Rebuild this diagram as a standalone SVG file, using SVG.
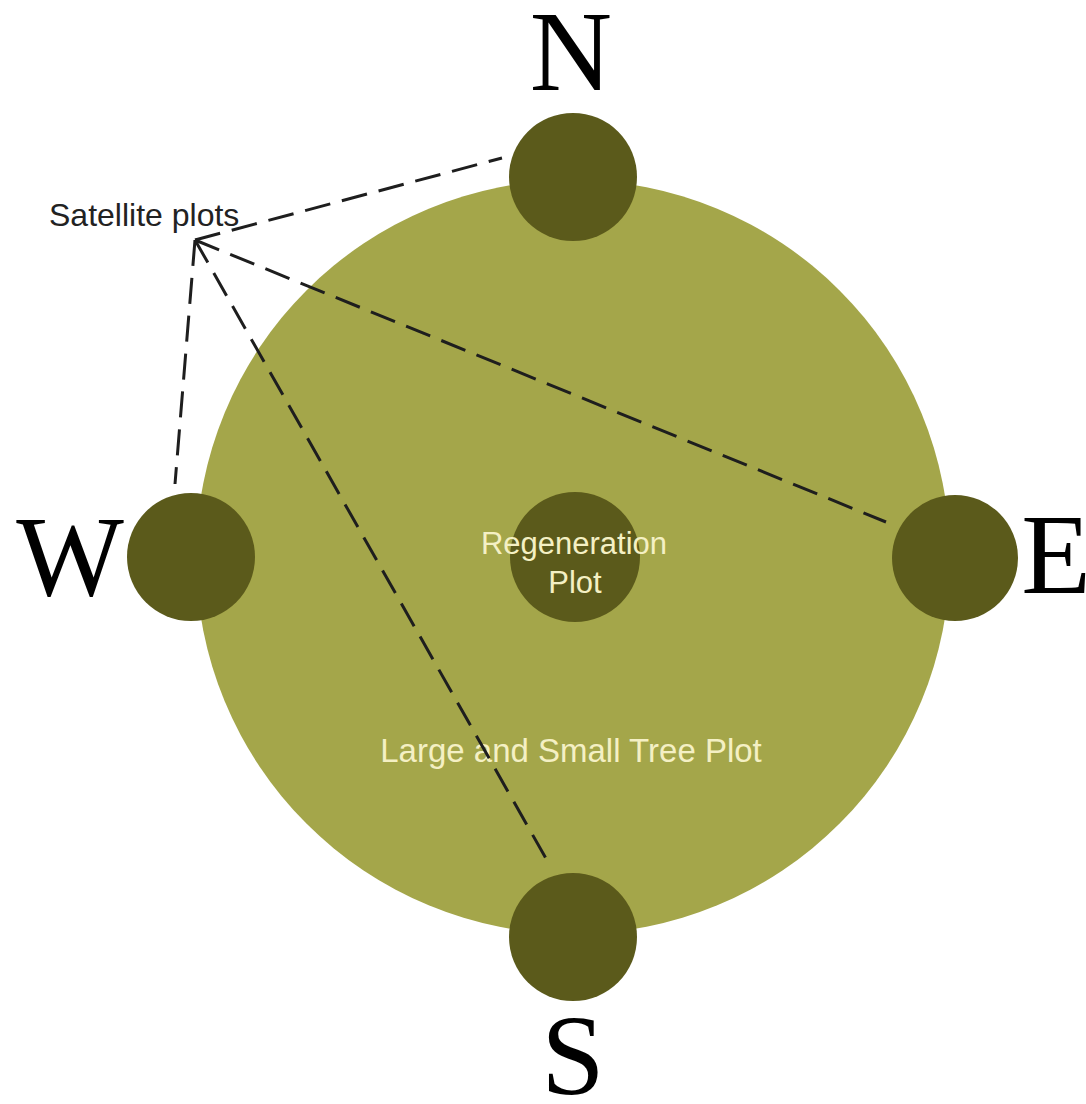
<svg xmlns="http://www.w3.org/2000/svg" width="1086" height="1104" viewBox="0 0 1086 1104">
<style>
.sat{fill:#5b5a1b}
.lbl{font-family:"Liberation Serif",serif;font-size:114px;fill:#000;text-anchor:middle}
.in{font-family:"Liberation Sans",Arial,sans-serif;fill:#f4f0c4;text-anchor:middle}
.dash{stroke:#1e1e1e;stroke-width:3;stroke-dasharray:26 12;fill:none}
</style>
<rect width="1086" height="1104" fill="#fff"/>
<g id="large-plot"><circle cx="573" cy="557" r="377" fill="#a4a64a"/><text class="in" x="571" y="762" font-size="33">Large and Small Tree Plot</text></g>
<g id="regen-plot"><circle cx="575" cy="557" r="65" class="sat"/><text class="in" x="574" y="554" font-size="31">Regeneration</text><text class="in" x="575" y="593" font-size="31">Plot</text></g>
<g id="sat-n"><circle cx="573" cy="177" r="64" class="sat"/><text class="lbl" x="571" y="90">N</text></g>
<g id="sat-w"><circle cx="191" cy="557" r="64" class="sat"/><text class="lbl" x="70" y="595">W</text></g>
<g id="sat-e"><circle cx="955" cy="558" r="63" class="sat"/><text class="lbl" x="1056" y="593">E</text></g>
<g id="sat-s"><circle cx="573" cy="937" r="64" class="sat"/><text class="lbl" x="573" y="1094">S</text></g>
<g id="connectors">
<line class="dash" x1="195" y1="240" x2="502" y2="158"/>
<line class="dash" x1="195" y1="240" x2="886" y2="522"/>
<line class="dash" x1="195" y1="240" x2="175" y2="484"/>
<line class="dash" x1="195" y1="240" x2="548" y2="862"/>
</g>
<g id="satellite-label"><text x="49" y="226" font-family="Liberation Sans, Arial, sans-serif" font-size="32" fill="#222">Satellite plots</text></g>
</svg>
